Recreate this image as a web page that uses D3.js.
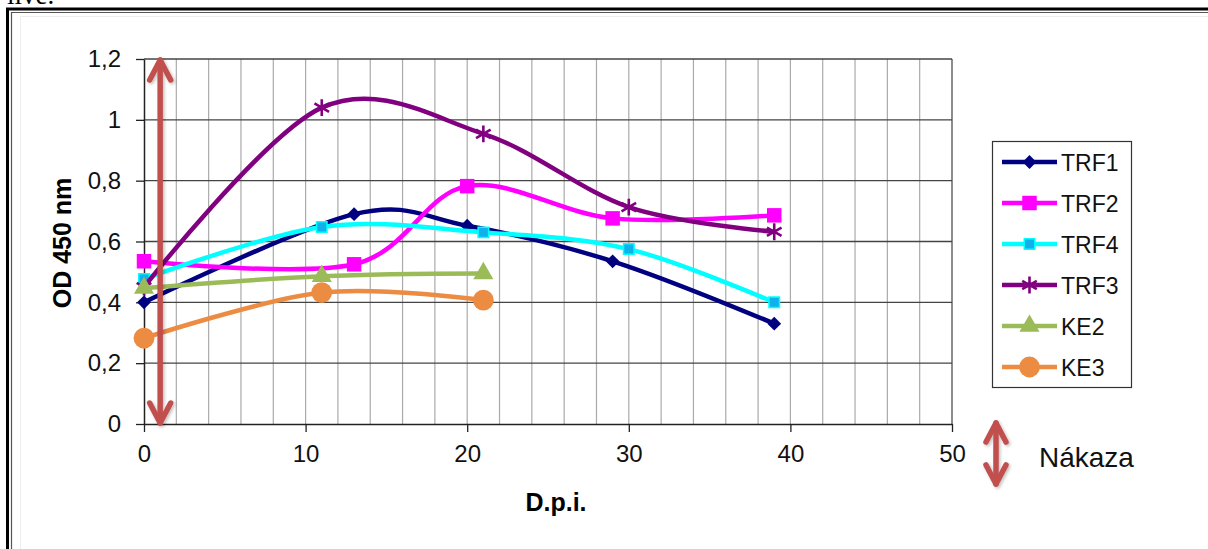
<!DOCTYPE html>
<html>
<head>
<meta charset="utf-8">
<script src="https://cdn.jsdelivr.net/npm/d3@7"></script>
<style>
  body { margin: 0; background: #fff; }
  svg { display: block; font-family: Arial, "Liberation Sans", sans-serif; }
</style>
</head>
<body>
<svg width="1208" height="549"></svg>
<script>
// series data (days post infection / OD 450 nm)
const seriesNames = ["TRF1", "TRF2", "TRF4", "TRF3", "KE2", "KE3"];
const trf1Days = [0, 13, 20, 29, 39];
const trf1 = [0.40, 0.69, 0.652, 0.535, 0.33];
const trf2Days = [0, 13, 20, 29, 39];
const trf2 = [0.535, 0.525, 0.782, 0.676, 0.686];
const trf4Days = [0, 11, 21, 30, 39];
const trf4 = [0.477, 0.648, 0.63, 0.575, 0.40];
const trf3Days = [0, 11, 21, 30, 39];
const trf3 = [0.45, 1.04, 0.954, 0.713, 0.632];
const ke2Days = [0, 11, 21];
const ke2 = [0.447, 0.486, 0.495];
const ke3Days = [0, 11, 21];
const ke3 = [0.282, 0.432, 0.407];

const xTicks = [0, 10, 20, 30, 40, 50];
const yTicks = [0, 0.2, 0.4, 0.6, 0.8, 1, 1.2];
const infectionDay = 1; // the red arrow

const colors = ["#000080", "#ff00ff", "#00ffff", "#800080", "#9bbb59", "#ec8b42"];

const svg = d3.select("svg");

const x = d3.scaleLinear().domain([0, 50]).range([144, 952]);
const y = d3.scaleLinear().domain([0, 1.2]).range([424, 59]);

// shadow for arrows
const defs = svg.append("defs");
const f = defs.append("filter").attr("id", "shadow")
  .attr("x", "-50%").attr("y", "-10%").attr("width", "200%").attr("height", "120%");
f.append("feDropShadow").attr("dx", 1.5).attr("dy", 1.5).attr("stdDeviation", 1.5)
  .attr("flood-color", "#000").attr("flood-opacity", 0.25);

// page text cut at top + table frame
svg.append("text").attr("x", 7).attr("y", 4)
  .style("font-family", "'Liberation Serif', 'Times New Roman', serif")
  .style("font-size", "27px").text("live.");
svg.append("path").attr("d", "M7.5,549V9H1208").attr("fill", "none")
  .attr("stroke", "#000").attr("stroke-width", 3);
svg.append("path").attr("d", "M11.5,549V12.5H1208").attr("fill", "none")
  .attr("stroke", "#555").attr("stroke-width", 1.2);
svg.append("path").attr("d", "M20.5,549V16.5H1208").attr("fill", "none")
  .attr("stroke", "#eee").attr("stroke-width", 1);

// gridlines
const g = svg.append("g");
g.selectAll(".vg").data(d3.range(2, 51, 2)).enter().append("line")
  .attr("x1", d => x(d)).attr("x2", d => x(d))
  .attr("y1", y(0)).attr("y2", y(1.2))
  .attr("stroke", d => d === 50 ? "#666" : "#aaa").attr("stroke-width", d => d === 50 ? 1.5 : 1.2);
g.selectAll(".hg").data(yTicks.slice(1)).enter().append("line")
  .attr("x1", x(0)).attr("x2", x(50))
  .attr("y1", d => y(d)).attr("y2", d => y(d))
  .attr("stroke", "#444").attr("stroke-width", 1.3);

// axes
const xAxis = svg.append("g").attr("transform", `translate(0,${y(0)})`)
  .call(d3.axisBottom(x).tickValues(xTicks).tickSize(8).tickPadding(13).tickSizeOuter(0));
const yAxis = svg.append("g").attr("transform", `translate(${x(0)},0)`)
  .call(d3.axisLeft(y).tickValues(yTicks).tickSize(8).tickPadding(15).tickSizeOuter(0)
    .tickFormat(d => String(d3.format("~g")(d)).replace(".", ",")));
[xAxis, yAxis].forEach(a => {
  a.select(".domain").attr("stroke", "#222").attr("stroke-width", 1.5);
  a.selectAll(".tick line").attr("stroke", "#222").attr("stroke-width", 1.3);
  a.selectAll("text").attr("fill", "#111").style("font-size", "24px")
    .style("font-family", "Arial, 'Liberation Sans', sans-serif");
});

// axis titles
svg.append("text").attr("x", 556).attr("y", 511).attr("text-anchor", "middle")
  .style("font-weight", "bold").style("font-size", "25px").text("D.p.i.");
svg.append("text").attr("transform", "translate(71,243) rotate(-90)")
  .attr("text-anchor", "middle").style("font-weight", "bold").style("font-size", "25px")
  .text("OD 450 nm");

// series
const series = [
  { name: seriesNames[0], days: trf1Days, vals: trf1, color: colors[0], marker: "diamond" },
  { name: seriesNames[1], days: trf2Days, vals: trf2, color: colors[1], marker: "square" },
  { name: seriesNames[2], days: trf4Days, vals: trf4, color: colors[2], marker: "square2" },
  { name: seriesNames[3], days: trf3Days, vals: trf3, color: colors[3], marker: "star" },
  { name: seriesNames[4], days: ke2Days, vals: ke2, color: colors[4], marker: "triangle" },
  { name: seriesNames[5], days: ke3Days, vals: ke3, color: colors[5], marker: "circle" }
];

const line = d3.line().x(d => x(d[0])).y(d => y(d[1])).curve(d3.curveCardinal.tension(0));

function drawMarker(sel, s) {
  if (s.marker === "diamond") {
    sel.append("path").attr("d", d3.symbol(d3.symbolSquare, 95)())
      .attr("transform", "rotate(45)").attr("fill", s.color);
  } else if (s.marker === "square") {
    sel.append("path").attr("d", d3.symbol(d3.symbolSquare, 210)()).attr("fill", s.color);
  } else if (s.marker === "square2") {
    sel.append("path").attr("d", d3.symbol(d3.symbolSquare, 110)())
      .attr("fill", "#10b0ec").attr("stroke", s.color).attr("stroke-width", 1.5);
  } else if (s.marker === "star") {
    sel.append("path").attr("d", d3.symbol(d3.symbolAsterisk, 200)())
      .attr("fill", "none").attr("stroke", s.color).attr("stroke-width", 2.6);
  } else if (s.marker === "triangle") {
    sel.append("path").attr("d", d3.symbol(d3.symbolTriangle, 175)()).attr("fill", s.color);
  } else {
    sel.append("path").attr("d", d3.symbol(d3.symbolCircle, 340)()).attr("fill", s.color);
  }
}

series.forEach(s => {
  const pts = s.days.map((d, i) => [d, s.vals[i]]);
  const gs = svg.append("g");
  gs.append("path").attr("d", line(pts)).attr("fill", "none")
    .attr("stroke", s.color).attr("stroke-width", 4.5);
  pts.forEach(p => {
    const m = gs.append("g").attr("transform", `translate(${x(p[0])},${y(p[1])})`);
    drawMarker(m, s);
  });
});

// infection arrow (double headed) at day 1
function doubleArrow(cx, y1, y2, head, w) {
  const a = svg.append("g").attr("filter", "url(#shadow)")
    .attr("stroke", "#c0504d").attr("stroke-width", w).attr("fill", "none")
    .attr("stroke-linecap", "round").attr("stroke-linejoin", "round");
  a.append("line").attr("x1", cx).attr("x2", cx).attr("y1", y1 + 1).attr("y2", y2 - 1);
  a.append("path").attr("d", `M${cx - head * 0.5},${y1 + head}L${cx},${y1 + 1}L${cx + head * 0.5},${y1 + head}`);
  a.append("path").attr("d", `M${cx - head * 0.5},${y2 - head}L${cx},${y2 - 1}L${cx + head * 0.5},${y2 - head}`);
}
doubleArrow(x(infectionDay), y(1.2), y(0), 21, 5.5);

// legend
const lg = svg.append("g");
lg.append("rect").attr("x", 992.5).attr("y", 141.5).attr("width", 139).attr("height", 246)
  .attr("fill", "#fff").attr("stroke", "#333").attr("stroke-width", 1.2);
series.forEach((s, i) => {
  const cy = 162 + i * 41;
  lg.append("line").attr("x1", 1002).attr("x2", 1057).attr("y1", cy).attr("y2", cy)
    .attr("stroke", s.color).attr("stroke-width", 4.5);
  const m = lg.append("g").attr("transform", `translate(1029.5,${cy})`);
  drawMarker(m, s);
  lg.append("text").attr("x", 1061).attr("y", cy + 8.5).style("font-size", "23px")
    .attr("fill", "#111").text(s.name);
});

// key for the arrow
doubleArrow(996, 422, 485, 20, 5.5);
svg.append("text").attr("x", 1039).attr("y", 467).style("font-size", "28px")
  .attr("fill", "#111").text("Nákaza");
</script>
</body>
</html>
